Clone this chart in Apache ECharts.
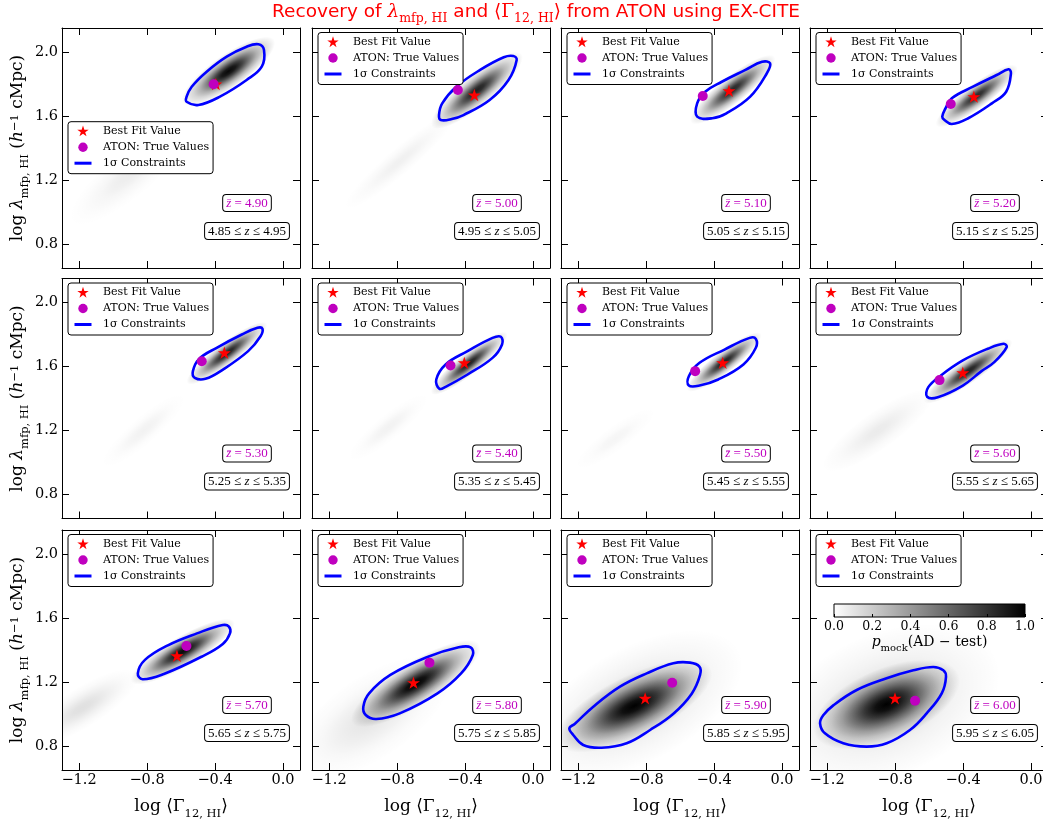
<!DOCTYPE html>
<html><head><meta charset="utf-8">
<script src="https://cdn.jsdelivr.net/npm/echarts@6/dist/echarts.min.js"></script>
<style>html,body{margin:0;padding:0;background:#fff}#c{width:1043px;height:823px}</style>
</head><body><div id="c"></div><script>
// ---------------- data ----------------
const zMid  = [4.90, 5.00, 5.10, 5.20, 5.30, 5.40, 5.50, 5.60, 5.70, 5.80, 5.90, 6.00];
const zLow  = [4.85, 4.95, 5.05, 5.15, 5.25, 5.35, 5.45, 5.55, 5.65, 5.75, 5.85, 5.95];
const zHigh = [4.95, 5.05, 5.15, 5.25, 5.35, 5.45, 5.55, 5.65, 5.75, 5.85, 5.95, 6.05];
const bestFitGamma  = [-0.395, -0.345, -0.312, -0.336, -0.345, -0.404, -0.349, -0.401, -0.624, -0.703, -0.805, -0.800];
const bestFitLambda = [1.800, 1.731, 1.758, 1.721, 1.686, 1.623, 1.623, 1.561, 1.364, 1.196, 1.098, 1.098];
const trueGamma  = [-0.408, -0.442, -0.466, -0.472, -0.478, -0.485, -0.511, -0.538, -0.568, -0.609, -0.646, -0.682];
const trueLambda = [1.798, 1.763, 1.725, 1.675, 1.633, 1.606, 1.571, 1.515, 1.425, 1.321, 1.195, 1.083];
// 1-sigma contours (log Gamma, log lambda)
const contourGamma = [
  [-0.567,-0.498,-0.371,-0.214,-0.125,-0.112,-0.145,-0.214,-0.331,-0.449,-0.537,-0.567],
  [-0.542,-0.478,-0.409,-0.255,-0.144,-0.096,-0.116,-0.172,-0.311,-0.451,-0.534,-0.553],
  [-0.499,-0.410,-0.327,-0.187,-0.089,-0.070,-0.117,-0.215,-0.354,-0.452,-0.499],
  [-0.509,-0.466,-0.369,-0.230,-0.146,-0.118,-0.132,-0.202,-0.341,-0.466,-0.503,-0.522],
  [-0.519,-0.456,-0.353,-0.205,-0.132,-0.121,-0.150,-0.242,-0.390,-0.493,-0.530],
  [-0.551,-0.514,-0.385,-0.238,-0.182,-0.189,-0.238,-0.385,-0.514,-0.569],
  [-0.548,-0.485,-0.375,-0.227,-0.154,-0.154,-0.190,-0.338,-0.485,-0.548],
  [-0.611,-0.548,-0.401,-0.291,-0.216,-0.143,-0.161,-0.254,-0.401,-0.530,-0.604],
  [-0.854,-0.826,-0.701,-0.479,-0.354,-0.312,-0.318,-0.354,-0.506,-0.674,-0.812],
  [-0.998,-0.984,-0.922,-0.784,-0.562,-0.423,-0.354,-0.367,-0.437,-0.617,-0.839,-0.964],
  [-1.251,-1.228,-1.169,-1.061,-0.914,-0.776,-0.639,-0.531,-0.482,-0.486,-0.541,-0.639,-0.796,-0.953,-1.110,-1.218],
  [-1.241,-1.212,-1.104,-0.967,-0.849,-0.712,-0.614,-0.525,-0.500,-0.516,-0.575,-0.692,-0.849,-1.025,-1.163,-1.222]
];
const contourLambda = [
  [1.689,1.669,1.721,1.825,1.908,2.013,2.048,2.033,1.971,1.877,1.783,1.721],
  [1.575,1.581,1.606,1.700,1.825,1.950,1.975,1.967,1.888,1.783,1.679,1.606],
  [1.596,1.586,1.617,1.721,1.867,1.929,1.939,1.888,1.814,1.752,1.679],
  [1.575,1.550,1.586,1.679,1.752,1.867,1.892,1.856,1.783,1.711,1.648,1.596],
  [1.529,1.523,1.581,1.696,1.789,1.836,1.842,1.800,1.717,1.648,1.571],
  [1.461,1.473,1.550,1.654,1.738,1.786,1.779,1.696,1.613,1.519],
  [1.481,1.481,1.519,1.613,1.717,1.773,1.779,1.706,1.623,1.539],
  [1.411,1.408,1.481,1.571,1.627,1.721,1.742,1.711,1.638,1.544,1.471],
  [1.254,1.217,1.250,1.358,1.438,1.504,1.546,1.556,1.504,1.431,1.338],
  [1.046,0.994,0.969,1.004,1.129,1.254,1.369,1.417,1.417,1.358,1.244,1.129],
  [0.911,0.869,0.806,0.789,0.817,0.900,1.002,1.127,1.244,1.296,1.321,1.317,1.254,1.171,1.046,0.939],
  [0.942,0.879,0.817,0.796,0.817,0.900,1.004,1.129,1.233,1.273,1.294,1.273,1.223,1.150,1.054,0.992]
];
// p_mock density lobes: [centre logGamma, centre logLambda, lobe-end logGamma, lobe-end logLambda, width ratio, peak p]
const densityLobes = [
  [[-0.32, 1.88, -0.052, 2.078, 0.30, 0.97], [-0.90, 1.24, -0.55, 1.55, 0.30, 0.07]],
  [[-0.33, 1.76, -0.066, 1.988, 0.27, 0.88], [-0.78, 1.32, -0.45, 1.62, 0.18, 0.06]],
  [[-0.29, 1.765, -0.044, 1.972, 0.25, 0.85]],
  [[-0.32, 1.725, -0.083, 1.911, 0.24, 0.85]],
  [[-0.33, 1.683, -0.096, 1.871, 0.22, 0.88], [-0.82, 1.20, -0.58, 1.42, 0.25, 0.05]],
  [[-0.375, 1.62, -0.153, 1.81, 0.22, 0.88], [-0.85, 1.22, -0.62, 1.42, 0.25, 0.05]],
  [[-0.34, 1.628, -0.124, 1.806, 0.23, 0.88], [-0.98, 1.15, -0.75, 1.33, 0.25, 0.04]],
  [[-0.37, 1.57, -0.113, 1.762, 0.22, 0.88], [-0.90, 1.20, -0.58, 1.44, 0.28, 0.08]],
  [[-0.59, 1.39, -0.287, 1.579, 0.25, 0.97], [-1.18, 1.04, -0.85, 1.26, 0.30, 0.12]],
  [[-0.69, 1.19, -0.315, 1.436, 0.29, 1.00], [-0.95, 0.98, -0.50, 1.30, 0.45, 0.10]],
  [[-0.87, 1.05, -0.417, 1.284, 0.36, 1.00], [-0.85, 1.06, -0.25, 1.40, 0.50, 0.15]],
  [[-0.85, 1.06, -0.425, 1.25, 0.46, 1.00], [-0.85, 1.06, -0.20, 1.35, 0.60, 0.15]]
];
const xTicks = [-1.2, -0.8, -0.4, 0.0];
const yTicks = [0.8, 1.2, 1.6, 2.0];
const cbTicks = [0.0, 0.2, 0.4, 0.6, 0.8, 1.0];
const legendNames = ['Best Fit Value', 'ATON: True Values', '1σ Constraints'];

// ---------------- layout / style ----------------
const L = [62, 312, 561, 810], T = [28, 278.5, 530], PW = 238, PH = 240;
const SERIF = 'DejaVu Serif', MATH = 'Liberation Serif';
const RED = '#ff0000', MAG = '#bf00bf', BLUE = '#0000ff';
const FADE = [[0,1],[0.15,0.93],[0.3,0.75],[0.45,0.53],[0.6,0.32],[0.75,0.17],[0.9,0.07],[1,0]];
const fmt = v => (v < 0 ? '\u2212' : '') + Math.abs(v).toFixed(1);

function starPath(cx, cy, R, r) {
  let s = '';
  for (let k = 0; k < 10; k++) {
    const a = (-90 + k * 36) * Math.PI / 180, rad = k % 2 ? r : R;
    s += (k ? 'L' : 'M') + (cx + rad * Math.cos(a)).toFixed(3) + ',' + (cy + rad * Math.sin(a)).toFixed(3);
  }
  return s + 'Z';
}
const STAR = 'path://' + starPath(0, 0, 10, 3.82);
const STAR_ICON = 'path://M0,0M30,13' + starPath(15, 6.8, 6, 2.3);
const DOT_ICON = 'path://M0,0M30,13M10.3,6.5A4.7,4.7,0,1,1,19.7,6.5A4.7,4.7,0,1,1,10.3,6.5Z';
const LINE_ICON = 'path://M0,0M30,13M6.5,5L23.5,5L23.5,8L6.5,8Z';

const nameRich = {
  n: {fontFamily: SERIF, fontSize: 17, lineHeight: 22, verticalAlign: 'top', color: '#000'},
  i: {fontFamily: SERIF, fontSize: 17, fontStyle: 'italic', lineHeight: 22, verticalAlign: 'top', color: '#000'},
  s: {fontFamily: SERIF, fontSize: 11.5, lineHeight: 12, verticalAlign: 'bottom', color: '#000'},
  p: {fontFamily: SERIF, fontSize: 11.5, lineHeight: 12, verticalAlign: 'top', color: '#000'}
};
const yName = '{n|log }{i|λ}{s|mfp, HI}{n| (}{i|h}{p|−1}{n| cMpc)}';
const xName = '{n|log ⟨Γ}{s|12, HI}{n|⟩}';

function renderLobe(params, api) {
  const c = api.coord([api.value(0), api.value(1)]);
  const t = api.coord([api.value(2), api.value(3)]);
  const dx = t[0] - c[0], dy = t[1] - c[1];
  const a = Math.hypot(dx, dy), ang = Math.atan2(-dy, dx);
  const peak = api.value(5);
  const cs = params.coordSys;
  return {
    type: 'group',
    clipPath: {type: 'rect', shape: {x: cs.x, y: cs.y, width: cs.width, height: cs.height}},
    children: [{
      type: 'circle', x: c[0], y: c[1], rotation: ang, scaleX: 1, scaleY: api.value(4),
      shape: {cx: 0, cy: 0, r: a},
      style: {fill: {type: 'radial', x: 0.5, y: 0.5, r: 0.5, global: false,
        colorStops: FADE.map(s => ({offset: s[0], color: 'rgba(0,0,0,' + (s[1] * peak).toFixed(3) + ')'}))}}
    }]
  };
}
function renderContour(params, api) {
  if (params.dataIndexInside !== 0) return null;
  const pts = [];
  for (let k = 0; k < params.dataInsideLength; k++) pts.push(api.coord([api.value(0, k), api.value(1, k)]));
  return {type: 'polygon', shape: {points: pts, smooth: 0.4}, style: {fill: 'none', stroke: BLUE, lineWidth: 2.6}};
}
function axisDef(kind, i, pos, showLabel, name) {
  const isX = kind === 'x';
  const ticks = isX ? xTicks : yTicks;
  return {
    gridIndex: i, type: 'value', position: pos,
    min: isX ? -1.3 : 0.65, max: isX ? 0.1 : 2.15,
    axisLine: {show: true, onZero: false, lineStyle: {color: '#000', width: 1}},
    axisTick: {show: true, inside: true, length: 7, customValues: ticks, lineStyle: {color: '#000', width: 1}},
    axisLabel: {show: showLabel, customValues: ticks, formatter: fmt, margin: isX ? 3 : 4,
      color: '#000', fontFamily: SERIF, fontSize: 14.5},
    splitLine: {show: false},
    name: name || '', nameLocation: 'middle', nameGap: isX ? 28 : 28,
    nameTextStyle: {rich: nameRich}
  };
}

const grids = [], xAxes = [], yAxes = [], series = [], legends = [], graphics = [];
for (let i = 0; i < 12; i++) {
  const r = Math.floor(i / 4), c = i % 4;
  grids.push({left: L[c], top: T[r], width: PW, height: PH, outerBoundsMode: 'none'});
  xAxes.push(axisDef('x', i, 'bottom', r === 2, r === 2 ? xName : ''));
  xAxes.push(axisDef('x', i, 'top', false, ''));
  yAxes.push(axisDef('y', i, 'left', c === 0, c === 0 ? yName : ''));
  yAxes.push(axisDef('y', i, 'right', false, ''));
  series.push({type: 'custom', name: 'p_mock ' + i, xAxisIndex: 2 * i, yAxisIndex: 2 * i, z: 1, silent: true,
    encode: {x: 0, y: 1}, data: densityLobes[i], renderItem: renderLobe});
  series.push({type: 'custom', name: legendNames[2], xAxisIndex: 2 * i, yAxisIndex: 2 * i, z: 3, silent: true,
    itemStyle: {color: BLUE}, encode: {x: 0, y: 1},
    data: contourGamma[i].map((g, k) => [g, contourLambda[i][k]]), renderItem: renderContour});
  series.push({type: 'scatter', name: legendNames[0], xAxisIndex: 2 * i, yAxisIndex: 2 * i, z: 4, silent: true,
    symbol: STAR, symbolKeepAspect: true, symbolSize: 13, itemStyle: {color: RED, opacity: 1},
    data: [[bestFitGamma[i], bestFitLambda[i]]]});
  series.push({type: 'scatter', name: legendNames[1], xAxisIndex: 2 * i, yAxisIndex: 2 * i, z: 5, silent: true,
    symbol: 'circle', symbolSize: 10, itemStyle: {color: MAG, opacity: 1},
    data: [[trueGamma[i], trueLambda[i]]]});
  legends.push({
    left: L[c] + 6, top: i === 0 ? T[0] + 93.7 : T[r] + 4.5, orient: 'vertical', z: 10,
    itemWidth: 30, itemHeight: 13, itemGap: 3, padding: [3, 4, 4, 0],
    borderColor: '#000', borderWidth: 1, borderRadius: 3, backgroundColor: '#fff',
    selectedMode: false, itemStyle: {borderWidth: 0, opacity: 1},
    textStyle: {fontFamily: SERIF, fontSize: 11, color: '#000', lineHeight: 13},
    data: [
      {name: legendNames[0], icon: STAR_ICON, itemStyle: {color: RED, borderWidth: 0, opacity: 1}},
      {name: legendNames[1], icon: DOT_ICON, itemStyle: {color: MAG, borderWidth: 0, opacity: 1}},
      {name: legendNames[2], icon: LINE_ICON, itemStyle: {color: BLUE, borderWidth: 0, opacity: 1}}
    ]
  });
  const boxStyle = {align: 'center', verticalAlign: 'middle', textAlign: 'center', textVerticalAlign: 'middle',
    backgroundColor: '#fff', borderColor: '#000', borderWidth: 1, borderRadius: 3, padding: [2, 3, 1, 3],
    fontFamily: MATH, fontSize: 13};
  graphics.push({type: 'text', x: L[c] + 185, y: T[r] + 175, z: 10, silent: true,
    style: Object.assign({}, boxStyle, {text: '{i|z\u0304} = ' + zMid[i].toFixed(2), fill: MAG,
      rich: {i: {fontFamily: MATH, fontSize: 13, fontStyle: 'italic', fill: MAG}}})});
  graphics.push({type: 'text', x: L[c] + 185, y: T[r] + 203, z: 10, silent: true,
    style: Object.assign({}, boxStyle, {text: zLow[i].toFixed(2) + ' \u2264 {i|z} \u2264 ' + zHigh[i].toFixed(2), fill: '#000',
      rich: {i: {fontFamily: MATH, fontSize: 13, fontStyle: 'italic', fill: '#000'}}})});
}

// title
graphics.push({type: 'text', x: 536, y: 14, z: 10, silent: true, style: {
  text: '{t|Recovery of }{m|λ}{s|mfp, HI}{t| and ⟨}{g|Γ}{s|12, HI}{t|⟩ from ATON using EX-CITE}',
  align: 'center', verticalAlign: 'middle', textAlign: 'center', textVerticalAlign: 'middle',
  rich: {
    t: {fill: RED, fontFamily: 'DejaVu Sans', fontSize: 18.5, lineHeight: 23, verticalAlign: 'top'},
    m: {fill: RED, fontFamily: SERIF, fontStyle: 'italic', fontSize: 18.5, lineHeight: 23, verticalAlign: 'top'},
    g: {fill: RED, fontFamily: SERIF, fontSize: 18.5, lineHeight: 23, verticalAlign: 'top'},
    s: {fill: RED, fontFamily: SERIF, fontSize: 12.5, lineHeight: 13, verticalAlign: 'bottom'}
  }}});

// colour bar
grids.push({left: 834, top: 604, width: 191, height: 13, outerBoundsMode: 'none'});
xAxes.push({gridIndex: 12, type: 'value', position: 'bottom', min: 0, max: 1, z: 6,
  axisLine: {show: false}, splitLine: {show: false},
  axisTick: {show: true, inside: true, length: 3, customValues: cbTicks, lineStyle: {color: '#000'}},
  axisLabel: {show: true, customValues: cbTicks, formatter: v => v.toFixed(1), margin: 3, color: '#000', fontFamily: SERIF, fontSize: 12.5},
  name: '{i|p}{s|mock}{n|(AD \u2212 test)}', nameLocation: 'middle', nameGap: 18,
  nameTextStyle: {rich: {
    n: {fontFamily: SERIF, fontSize: 14, lineHeight: 18, verticalAlign: 'top', color: '#000'},
    i: {fontFamily: SERIF, fontSize: 14, fontStyle: 'italic', lineHeight: 18, verticalAlign: 'top', color: '#000'},
    s: {fontFamily: SERIF, fontSize: 10, lineHeight: 10, verticalAlign: 'bottom', color: '#000'}}}});
yAxes.push({gridIndex: 12, type: 'value', min: 0, max: 1, show: false});
series.push({type: 'custom', name: 'colorbar', xAxisIndex: 24, yAxisIndex: 24, z: 5, silent: true,
  data: [[0, 0, 1, 1]], encode: {x: [0, 2], y: [1, 3]},
  renderItem: function (params, api) {
    const p0 = api.coord([api.value(0), api.value(3)]), p1 = api.coord([api.value(2), api.value(1)]);
    return {type: 'rect', shape: {x: p0[0], y: p0[1], width: p1[0] - p0[0], height: p1[1] - p0[1]},
      style: {stroke: '#000', lineWidth: 1, fill: {type: 'linear', x: 0, y: 0, x2: 1, y2: 0,
        colorStops: [{offset: 0, color: '#ffffff'}, {offset: 1, color: '#000000'}]}}};
  }});

const chart = echarts.init(document.getElementById('c'), null, {renderer: 'canvas'});
chart.setOption({
  animation: false, backgroundColor: '#fff',
  grid: grids, xAxis: xAxes, yAxis: yAxes, series: series, legend: legends,
  graphic: {elements: graphics}
});
</script></body></html>
